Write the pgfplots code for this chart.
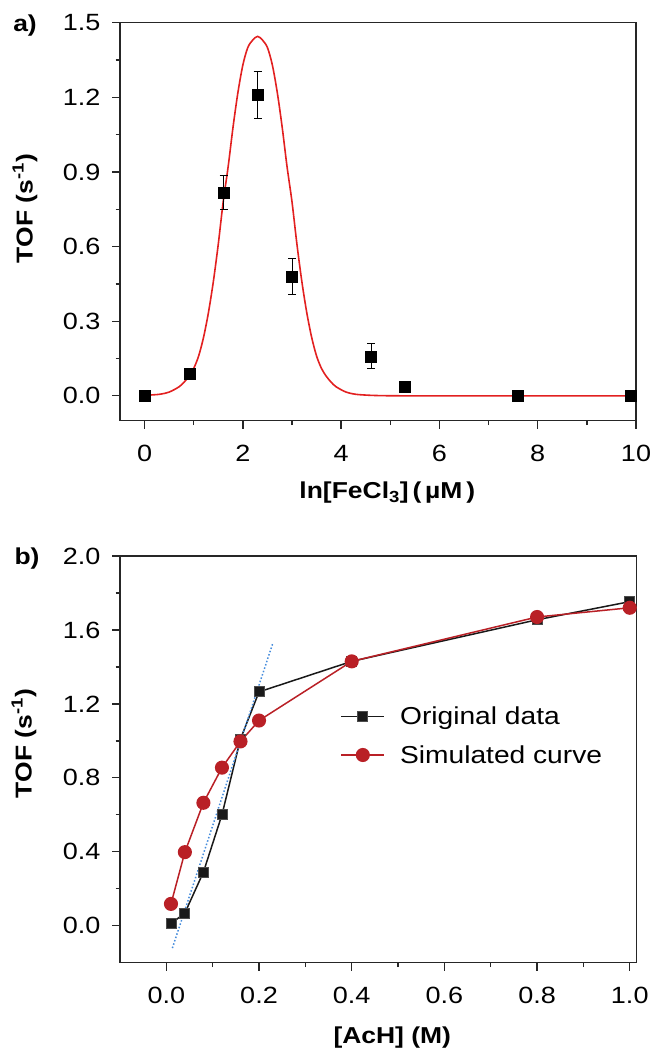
\documentclass[border=0pt]{standalone}
\usepackage{fontspec}
\setmainfont{Liberation Sans}[FakeStretch=1.15]
\usepackage{pgfplots}
\pgfplotsset{compat=1.18}
\definecolor{curvered}{RGB}{226,32,32}
\definecolor{simred}{RGB}{185,32,38}
\definecolor{fitblue}{RGB}{70,140,220}
\newcommand\tickfont{\fontsize{23.5}{26}\selectfont}
\newcommand\labfont{\fontsize{23}{26}\selectfont\bfseries}
\newcommand\legfont{\fontsize{24.5}{28}\selectfont}
\pgfplotsset{
  myaxis/.style={
    scale only axis,
    clip=false,
    axis line style={line width=1.5pt, black!85},
    tick align=outside,
    tick pos=left,
    major tick length=8pt,
    minor tick length=4.5pt,
    every tick/.style={line width=1.3pt, black!85},
    ticklabel style={font=\tickfont},
    xticklabel style={yshift=-13pt},
    yticklabel style={xshift=-8pt},
    /pgf/number format/assume math mode=true,
    label style={font=\labfont},
    ylabel style={anchor=center, rotate=0},
  }
}
\begin{document}
\begin{tikzpicture}
\useasboundingbox (0pt,0pt) rectangle (656pt,1052pt);
% ---------- panel a ----------
\begin{axis}[myaxis,
  at={(120pt,631.3pt)}, anchor=south west,
  width=516pt, height=398pt,
  xmin=-0.5, xmax=10, ymin=-0.1, ymax=1.5,
  xtick={0,2,4,6,8,10}, minor x tick num=1,
  ytick={0,0.3,0.6,0.9,1.2,1.5}, minor y tick num=1,
  yticklabel style={/pgf/number format/fixed, /pgf/number format/fixed zerofill, /pgf/number format/precision=1},
  xlabel={ln[FeCl\textsubscript{3}]\,(\,\textmu M\,)},
  ylabel={TOF (s\textsuperscript{-1})},
  xlabel style={at={(axis description cs:0.518,-0.181)}, anchor=center},
  ylabel style={at={(axis description cs:-0.184,0.533)}, anchor=center},
]
\addplot[curvered, line width=1.6pt, smooth] coordinates {
 (0.0,0.002) (0.3,0.006) (0.5,0.015) (0.7,0.036) (0.8,0.054) (0.9,0.078)
 (1.0,0.11) (1.1,0.16) (1.2,0.235) (1.3,0.335) (1.4,0.46) (1.5,0.61)
 (1.6,0.78) (1.7,0.92) (1.8,1.08) (1.9,1.22) (2.0,1.33) (2.1,1.40)
 (2.2,1.43) (2.3,1.445) (2.4,1.43) (2.5,1.40) (2.6,1.33) (2.7,1.22)
 (2.8,1.08) (2.9,0.92) (3.0,0.78) (3.1,0.61) (3.2,0.46) (3.3,0.335)
 (3.4,0.235) (3.5,0.16) (3.6,0.11) (3.7,0.078) (3.8,0.054) (3.9,0.036)
 (4.1,0.015) (4.3,0.006) (4.6,0.002) (4.9,0.0005) (5.3,0) (6,0) (8,0) (10,0)
};
\addplot[only marks, mark=square*, mark size=5.5pt, black,
  error bars/.cd, y dir=both, y explicit,
  error bar style={line width=1pt, black},
  error mark options={rotate=90, mark size=4pt, line width=1pt, black}]
 coordinates {
 (0,0) +- (0,0)
 (0.92,0.09) +- (0,0)
 (1.61,0.818) +- (0,0.067)
 (2.30,1.209) +- (0,0.095)
 (3.00,0.479) +- (0,0.072)
 (4.61,0.159) +- (0,0.05)
 (5.30,0.035) +- (0,0)
 (7.60,0.0) +- (0,0)
 (9.90,0.0) +- (0,0)
};
\node[font=\labfont] at (rel axis cs:-0.184,0.994) {a)};
\end{axis}
% ---------- panel b ----------
\begin{axis}[myaxis,
  at={(120pt,89.3pt)}, anchor=south west,
  width=516.7pt, height=406.7pt,
  xmin=-0.1, xmax=1.015, ymin=-0.2, ymax=2.0,
  xtick={0,0.2,0.4,0.6,0.8,1.0}, minor x tick num=1,
  ytick={0,0.4,0.8,1.2,1.6,2.0}, minor y tick num=1,
  xticklabel style={/pgf/number format/fixed, /pgf/number format/fixed zerofill, /pgf/number format/precision=1},
  yticklabel style={/pgf/number format/fixed, /pgf/number format/fixed zerofill, /pgf/number format/precision=1},
  xlabel={[AcH] (M)},
  ylabel={TOF (s\textsuperscript{-1})},
  xlabel style={at={(axis description cs:0.527,-0.185)}, anchor=center},
  ylabel style={at={(axis description cs:-0.186,0.539)}, anchor=center},
  legend style={at={(axis cs:0.376,1.027)}, anchor=west, draw=none, fill=none,
    inner sep=0pt, outer sep=0pt, row sep=19pt, font=\legfont,
    nodes={inner sep=0pt},
    /tikz/every odd column/.append style={column sep=15pt}},
  legend cell align=left,
  legend image code/.code={\draw[mark repeat=2,mark phase=2,#1] plot coordinates {(0pt,0pt) (21.5pt,0pt) (43pt,0pt)};},
]
\addplot[black!90, line width=1.5pt, mark=square*, mark size=5pt, mark options={fill=black!90, draw=black!70, line width=0.8pt}] coordinates {
 (0.01,0.011) (0.04,0.069) (0.08,0.29) (0.12,0.60) (0.16,1.01) (0.20,1.265) (0.40,1.43) (0.80,1.655) (1.0,1.753)
};
\addlegendentry{Original data}
\addplot[fitblue, line width=1.5pt, dotted, forget plot] coordinates {(0.013,-0.121) (0.23,1.53)};
\addplot[simred, line width=1.5pt, mark=*, mark size=6.3pt, mark options={fill=simred, draw=simred}] coordinates {
 (0.01,0.118) (0.04,0.398) (0.08,0.665) (0.12,0.855) (0.16,0.997) (0.20,1.11) (0.40,1.43) (0.80,1.67) (1.0,1.72)
};
\addlegendentry{Simulated curve}
\node[font=\labfont] at (rel axis cs:-0.180,0.993) {b)};
\end{axis}
\end{tikzpicture}
\end{document}
